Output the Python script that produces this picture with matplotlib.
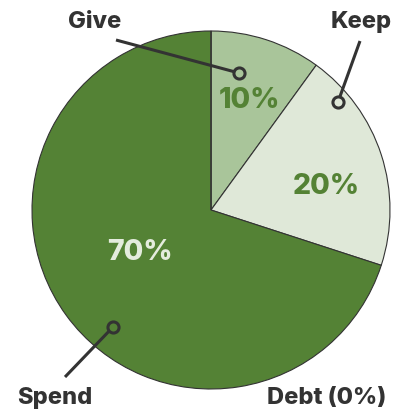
import matplotlib
matplotlib.use("Agg")
import matplotlib.pyplot as plt

# budget split
labels = ['Give', 'Keep', 'Spend', 'Debt (0%)']
values = [10, 20, 70, 0]
colors = ['#a9c59a', '#dfe8d8', '#548235', '#548235']
pct_colors = ['#548235', '#548235', '#e4ecdd', '#e4ecdd']

W, H = 404, 410
CX, CY, R = 211, 211, 179

# where the labels, callout dots and percentages go (image pixels, y down)
label_pos = [(95, 22), (361, 22), (55, 398), (327, 398)]
dot_pos = [(239, 74), (338, 103), (113, 328), None]
line_end = [(116, 41), (360, 42), (65, 378), None]
pct_pos = [(250, 100), (326, 187), (140, 252), None]

plt.rcParams['font.family'] = ['Inter', 'DejaVu Sans']

fig = plt.figure(figsize=(W / 100, H / 100), dpi=100)
ax = fig.add_axes([0, 0, 1, 1])


def fy(y):
    return H - y


wedges, _ = ax.pie(values, colors=colors, startangle=90, counterclock=False,
                   center=(CX, fy(CY)), radius=R, frame=True,
                   wedgeprops=dict(edgecolor='#333333', linewidth=0.8))
ax.set_xlim(0, W)
ax.set_ylim(0, H)
ax.set_aspect('equal')
ax.axis('off')

for i, v in enumerate(values):
    if pct_pos[i] is not None:
        x, y = pct_pos[i]
        ax.text(x, fy(y), f'{v}%', ha='center', va='center', fontsize=20.5,
                fontweight='heavy', color=pct_colors[i])
    if dot_pos[i] is not None:
        dx, dy = dot_pos[i]
        ex, ey = line_end[i]
        ax.plot([ex, dx], [fy(ey), fy(dy)], color='#333333', lw=2.2,
                solid_capstyle='butt', zorder=5)
        ax.plot(dx, fy(dy), marker='o', ms=8, mew=2.2, mec='#333333',
                mfc=colors[i], zorder=6)
    lx, ly = label_pos[i]
    ax.text(lx, fy(ly), labels[i], ha='center', va='center', fontsize=17,
            fontweight='heavy', color='#333333')

fig.savefig('out.png', dpi=100)
